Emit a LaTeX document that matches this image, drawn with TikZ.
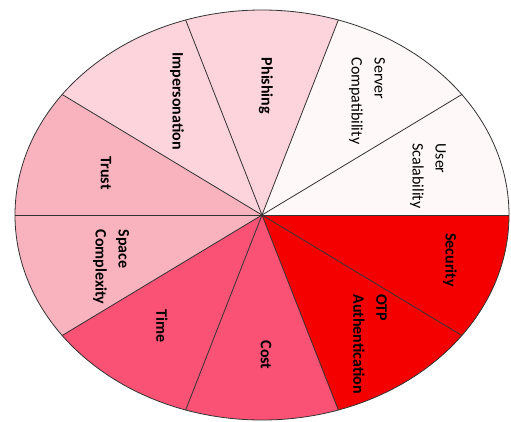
\documentclass[tikz,border=0pt]{standalone}
\usepackage{fontspec}
\setmainfont{Carlito}
\usetikzlibrary{calc}
\definecolor{paleC}{HTML}{FEF8F8}
\definecolor{pinkC}{HTML}{FDD3DC}
\definecolor{roseC}{HTML}{F9B3BE}
\definecolor{deepC}{HTML}{F95274}
\definecolor{redC}{HTML}{F50000}
\begin{document}
\begin{tikzpicture}[x=1pt,y=1pt,
  wedge/.style={line width=0.8pt, draw=black!80, line join=round},
  lbl/.style={rotate=-90, align=left, inner sep=0pt,
    font=\fontsize{16}{23}\selectfont\bfseries},
  lblreg/.style={lbl, font=\fontsize{16}{23}\selectfont}]
\useasboundingbox (0,0) rectangle (511,421);
\coordinate (c) at (262,206);
% ten equal wedges of the ellipse, counter-clockwise from the right
\foreach \a/\col in {0/paleC,36/paleC,72/pinkC,108/pinkC,144/roseC,
                     180/roseC,216/deepC,252/deepC,288/redC,324/redC}{
  \fill[\col] (c) -- ($(c)+(\a:247pt and 205pt)$)
    arc[start angle=\a, delta angle=36, x radius=247pt, y radius=205pt] -- cycle;
}
\foreach \a in {0,36,...,324}{
  \draw[wedge] (c) -- ($(c)+(\a:247pt and 205pt)$);
}
\draw[wedge] (c) ellipse[x radius=247pt, y radius=205pt];
% labels
\node[lblreg] (scal)  at (428,245) {User\\Scalability};
\node[lblreg] (comp)  at (367,320) {Server\\Compatibility};
\node[lbl]    (phish) at (266,335) {Phishing};
\node[lbl]    (imp)   at (177,320) {Impersonation};
\node[lbl]    (trust) at (106,248) {Trust};
\node[lbl]    (space) at (111,154) {Space\\Complexity};
\node[lbl]    (time)  at (162,95)  {Time};
\node[lbl]    (cost)  at (266,66)  {Cost};
\node[lbl]    (otp)   at (370,77)  {OTP\\Authentication};
\node[lbl]    (sec)   at (450,161) {Security};
\end{tikzpicture}
\end{document}
